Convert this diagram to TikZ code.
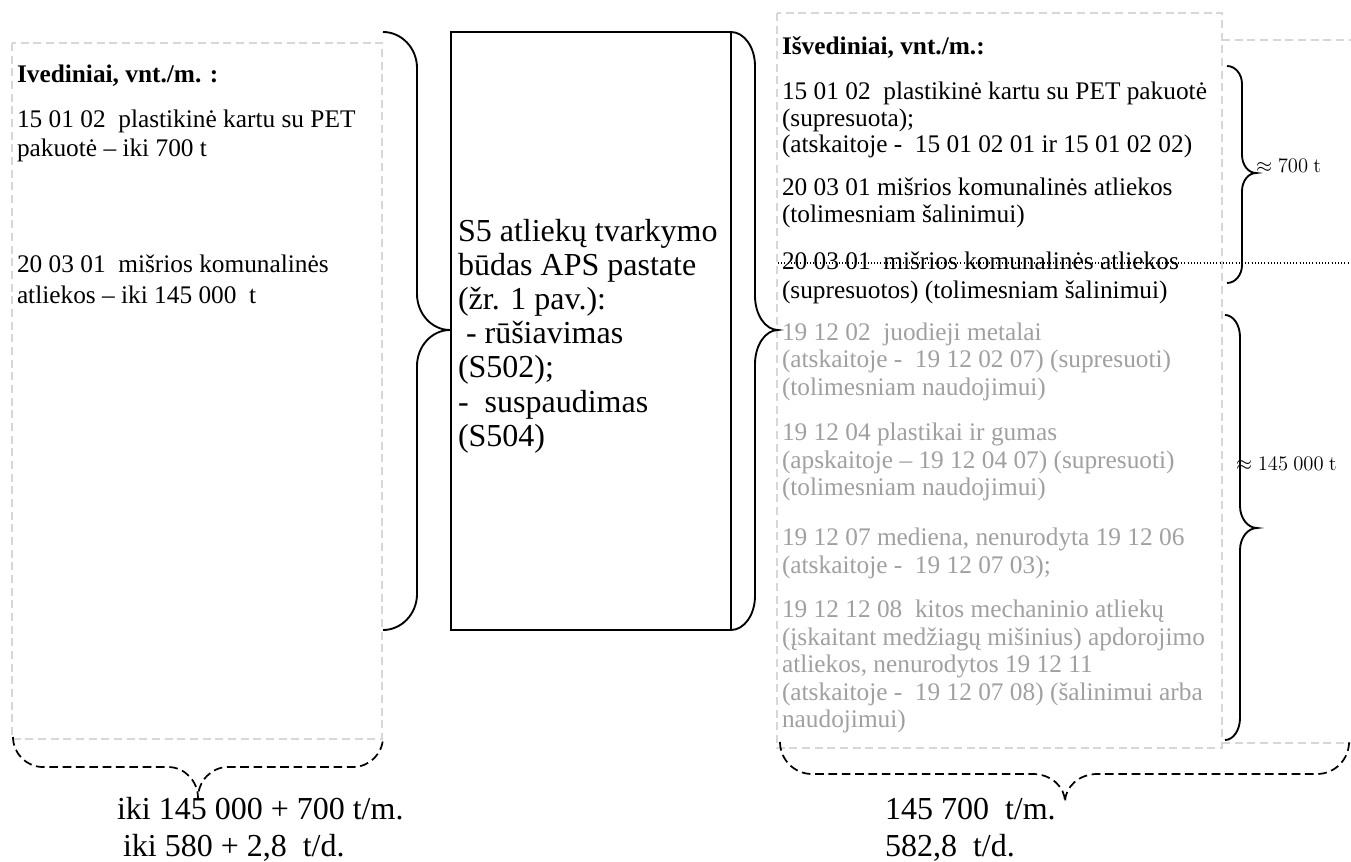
\RequirePackage{fix-cm}
\documentclass[tikz,border=0pt]{standalone}
\usepackage[no-math]{fontspec}
\setmainfont{Liberation Serif}
\definecolor{gtext}{RGB}{160,160,160}
\definecolor{gline}{RGB}{215,215,215}
\tikzset{
 px/.style={x=0.75pt,y=-0.75pt},
 t/.style={anchor=base west, inner sep=0pt, outer sep=0pt, font=\fontsize{19}{22}\selectfont},
 tb/.style={t, font=\fontsize{19}{22}\selectfont\bfseries},
 tg/.style={t, text=gtext},
 tbig/.style={anchor=base west, inner sep=0pt, outer sep=0pt, font=\fontsize{24}{28}\selectfont},
 tmath/.style={anchor=base west, inner sep=0pt, outer sep=0pt, font=\fontsize{15.5}{18}\selectfont},
 greybox/.style={draw=gline, line width=1.1pt, dash pattern=on 6pt off 3.5pt},
 solidbrace/.style={draw=black, line width=1.4pt},
 dashbrace/.style={draw=black, line width=1.3pt, dash pattern=on 6.5pt off 3.5pt},
 midbox/.style={draw=black, line width=1.4pt},
 strike/.style={draw=black, line width=0.8pt, dash pattern=on 0.8pt off 1.6pt},
}
% vertical brace pointing right: style, x0, y0, y1, x1, x2, ym, r
\newcommand{\vbr}[8]{%
\draw[#1] (#2,#3) .. controls ({#2+0.55*(#5-#2)},#3) and (#5,{#3+0.45*#8}) .. (#5,{#3+#8})
 -- (#5,{#7-#8}) .. controls (#5,{#7-0.45*#8}) and ({#5+0.45*(#6-#5)},#7) .. (#6,#7)
 .. controls ({#5+0.45*(#6-#5)},#7) and (#5,{#7+0.45*#8}) .. (#5,{#7+#8})
 -- (#5,{#4-#8}) .. controls (#5,{#4-0.45*#8}) and ({#2+0.55*(#5-#2)},#4) .. (#2,#4);}
% horizontal brace pointing down: style, y0, x0, x1, y1, y2, xm, r
\newcommand{\hbr}[8]{%
\draw[#1] (#3,#2) .. controls (#3,{#2+0.55*(#5-#2)}) and ({#3+0.45*#8},#5) .. ({#3+#8},#5)
 -- ({#7-#8},#5) .. controls ({#7-0.45*#8},#5) and (#7,{#5+0.45*(#6-#5)}) .. (#7,#6)
 .. controls (#7,{#5+0.45*(#6-#5)}) and ({#7+0.45*#8},#5) .. ({#7+#8},#5)
 -- ({#4-#8},#5) .. controls ({#4-0.45*#8},#5) and (#4,{#2+0.55*(#5-#2)}) .. (#4,#2);}
\begin{document}
\begin{tikzpicture}[px]
\useasboundingbox (0,0) rectangle (1351,862);
% boxes
\coordinate (lbA) at (12,43); \coordinate (lbB) at (382,739);
\draw[greybox] (lbA) rectangle (lbB);
\coordinate (rbA) at (777,13); \coordinate (rbB) at (1222,748);
\draw[greybox] (rbA) rectangle (rbB);
\coordinate (xbA) at (1222,40); \coordinate (xbA2) at (1351,40);
\coordinate (xbB) at (1222,743); \coordinate (xbB2) at (1351,743);
\draw[greybox] (xbA) -- (xbA2) (xbB) -- (xbB2);
\coordinate (mA) at (451,32); \coordinate (mB) at (731,630);
\draw[midbox] (mA) rectangle (mB);
% dotted strike line
\coordinate (sA) at (778,263); \coordinate (sB) at (1351,263);
\draw[strike] (sA) -- (sB);
% braces
\vbr{solidbrace}{383}{32}{630}{417}{450}{330}{36}
\vbr{solidbrace}{731}{32}{630}{755}{778}{330}{34}
\vbr{solidbrace}{1227}{66}{283}{1242}{1256}{173}{18}
\vbr{solidbrace}{1225}{315}{740}{1240}{1257}{528}{22}
\hbr{dashbrace}{737}{13}{383}{767}{798}{198}{30}
\hbr{dashbrace}{742}{780}{1349}{774}{802}{1065}{32}
% left texts
\node[tb] (L0) at (17,83) {Ivediniai, vnt./m. :};
\node[t] (L1) at (17,128) {15 01 02\ \ plastikinė kartu su PET};
\node[t] (L2) at (17,157) {pakuotė – iki 700 t};
\node[t] (L3) at (17,273) {20 03 01\ \ mišrios komunalinės};
\node[t] (L4) at (17,304) {atliekos – iki 145 000\ \ t};
% middle texts
\node[tbig] (M1) at (458,242) {S5 atliekų tvarkymo};
\node[tbig] (M2) at (458,276) {būdas APS pastate};
\node[tbig] (M3) at (458,310) {(žr. 1 pav.):};
\node[tbig] (M4) at (458,344) {\ - rūšiavimas};
\node[tbig] (M5) at (458,378) {(S502);};
\node[tbig] (M6) at (458,412) {-\ \ suspaudimas};
\node[tbig] (M7) at (458,446) {(S504)};
% right texts
\node[tb] (R0) at (782,55) {Išvediniai, vnt./m.:};
\node[t] (R1) at (782,100) {15 01 02\ \ plastikinė kartu su PET pakuotė};
\node[t] (R2) at (782,127) {(supresuota);};
\node[t] (R3) at (782,153) {(atskaitoje -\ \ 15 01 02 01 ir 15 01 02 02)};
\node[t] (R4) at (782,196) {20 03 01 mišrios komunalinės atliekos};
\node[t] (R5) at (782,223) {(tolimesniam šalinimui)};
\node[t] (R6) at (782,270) {20 03 01\ \ mišrios komunalinės atliekos};
\node[t] (R7) at (782,299) {(supresuotos) (tolimesniam šalinimui)};
\node[tg] (G1) at (782,341) {19 12 02\ \ juodieji metalai};
\node[tg] (G2) at (782,368) {(atskaitoje -\ \ 19 12 02 07) (supresuoti)};
\node[tg] (G3) at (782,395) {(tolimesniam naudojimui)};
\node[tg] (G4) at (782,440) {19 12 04 plastikai ir gumas};
\node[tg] (G5) at (782,468) {(apskaitoje – 19 12 04 07) (supresuoti)};
\node[tg] (G6) at (782,495) {(tolimesniam naudojimui)};
\node[tg] (G7) at (782,545) {19 12 07 mediena, nenurodyta 19 12 06};
\node[tg] (G8) at (782,573) {(atskaitoje -\ \ 19 12 07 03);};
\node[tg] (G9) at (782,617) {19 12 12 08\ \ kitos mechaninio atliekų};
\node[tg] (G10) at (782,645) {(įskaitant medžiagų mišinius) apdorojimo};
\node[tg] (G11) at (782,672) {atliekos, nenurodytos 19 12 11};
\node[tg] (G12) at (782,700) {(atskaitoje -\ \ 19 12 07 08) (šalinimui arba};
\node[tg] (G13) at (782,727) {naudojimui)};
% brace labels
\node[tmath] (A1) at (1256,173) {$\approx 700\ \mathrm{t}$};
\node[tmath] (A2) at (1236,470) {$\approx 145\ 000\ \mathrm{t}$};
% bottom totals
\node[tbig] (B1) at (117,819) {iki 145 000 + 700 t/m.};
\node[tbig] (B2) at (123,856) {iki 580 + 2,8\ \ t/d.};
\node[tbig] (B3) at (885,819) {145 700\ \ t/m.};
\node[tbig] (B4) at (885,856) {582,8\ \ t/d.};
\end{tikzpicture}
\end{document}
